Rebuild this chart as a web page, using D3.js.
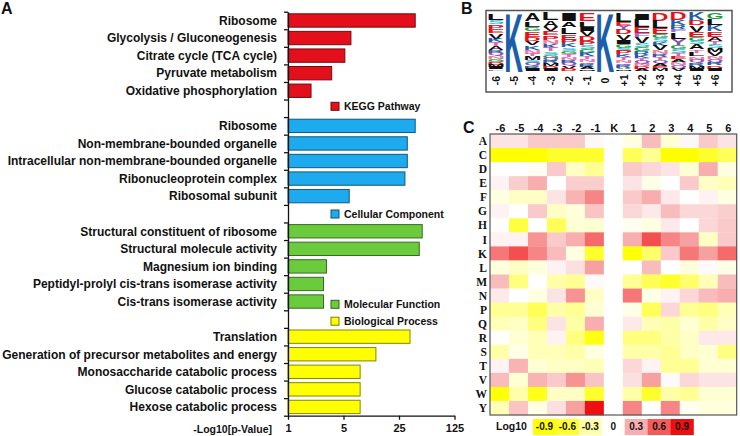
<!DOCTYPE html>
<html><head><meta charset="utf-8">
<script src="https://cdn.jsdelivr.net/npm/d3@7"></script>
<style>
body{margin:0;background:#fff}
svg{display:block}
text{font-family:"Liberation Sans",Arial,sans-serif;font-weight:bold;fill:#111}
</style>
</head><body>
<svg id="c" width="740" height="436"></svg>
<script>
// ---------- Panel A data ----------
const groupNames = ["KEGG Pathway","Cellular Component","Molecular Function","Biological Process"];
const groupColors = ["#e3101b","#1eaaee","#6acc3c","#ffff00"];
const keggTerms = ["Ribosome","Glycolysis / Gluconeogenesis","Citrate cycle (TCA cycle)","Pyruvate metabolism","Oxidative phosphorylation"];
const keggValues = [40, 6.2, 5.2, 3.55, 1.95];
const ccTerms = ["Ribosome","Non-membrane-bounded organelle","Intracellular non-membrane-bounded organelle","Ribonucleoprotein complex","Ribosomal subunit"];
const ccValues = [40, 31.8, 31.8, 29.7, 5.9];
const mfTerms = ["Structural constituent of ribosome","Structural molecule activity","Magnesium ion binding","Peptidyl-prolyl cis-trans isomerase activity","Cis-trans isomerase activity"];
const mfValues = [49, 45, 3.05, 2.8, 2.8];
const bpTerms = ["Translation","Generation of precursor metabolites and energy","Monosaccharide catabolic process","Glucose catabolic process","Hexose catabolic process"];
const bpValues = [34.4, 12.8, 8.1, 8.1, 8.1];
const xTicks = [1, 5, 25, 125];

// ---------- Panel B data (sequence logo, top -> bottom) ----------
const logoPositions = ["-6","-5","-4","-3","-2","-1","0","+1","+2","+3","+4","+5","+6"];
const logoStacks = [
  [["L",.12],["S",.07],["P",.08],["E",.07],["V",.10],["K",.06],["T",.06],["A",.06],["R",.05],["Q",.05],["N",.05],["G",.05],["D",.05],["M",.04],["I",.04],["F",.03]],
  [["K",1]],
  [["A",.14],["L",.10],["G",.07],["E",.10],["D",.08],["V",.07],["K",.08],["N",.06],["T",.05],["M",.06],["S",.05],["Q",.05],["R",.05],["I",.04]],
  [["L",.13],["A",.12],["V",.06],["E",.08],["P",.08],["N",.07],["K",.06],["T",.06],["S",.06],["G",.05],["Q",.05],["R",.05],["M",.05],["D",.04],["I",.04]],
  [["I",.14],["A",.10],["L",.12],["E",.10],["P",.06],["K",.07],["S",.06],["G",.06],["T",.05],["N",.05],["R",.05],["Q",.05],["V",.05],["D",.04]],
  [["E",.14],["L",.10],["I",.06],["V",.10],["D",.08],["P",.06],["S",.07],["G",.06],["K",.06],["T",.05],["N",.05],["Q",.04],["R",.04],["A",.04],["M",.03]],
  [["K",1]],
  [["L",.15],["E",.07],["Y",.06],["D",.08],["V",.10],["I",.06],["G",.07],["S",.05],["P",.06],["K",.05],["T",.05],["N",.04],["Q",.04],["R",.04],["A",.03],["M",.03]],
  [["I",.12],["L",.12],["E",.10],["F",.06],["V",.10],["S",.06],["G",.07],["R",.06],["K",.05],["T",.05],["Q",.05],["N",.04],["D",.04],["A",.04]],
  [["D",.13],["L",.12],["E",.10],["G",.07],["S",.06],["K",.06],["V",.08],["N",.06],["R",.05],["T",.05],["Q",.05],["A",.05],["P",.04],["M",.04]],
  [["D",.12],["K",.08],["R",.07],["F",.05],["L",.10],["Y",.10],["G",.07],["S",.06],["T",.05],["E",.05],["A",.05],["N",.05],["Q",.05],["V",.04]],
  [["K",.12],["D",.08],["V",.10],["E",.08],["G",.06],["S",.06],["A",.08],["T",.05],["L",.06],["N",.05],["Q",.05],["R",.05],["M",.04],["I",.04]],
  [["G",.10],["L",.10],["K",.10],["E",.08],["A",.07],["T",.06],["S",.06],["M",.06],["V",.06],["N",.05],["Q",.05],["R",.05],["D",.05],["I",.04]]
];
const aaColors = {K:"#1c5eab",R:"#1c5eab",H:"#1c5eab",D:"#e3121b",E:"#e3121b",P:"#e3121b",
  G:"#18a040",S:"#35bcd8",T:"#e065b8",N:"#ef7aa5",Q:"#8d4db0",Y:"#8d4db0",F:"#a06ad0",C:"#2aa05a",
  L:"#111",A:"#111",V:"#111",I:"#111",M:"#111",W:"#111"};

// ---------- Panel C data (heatmap) ----------
const heatCols = ["-6","-5","-4","-3","-2","-1","K","1","2","3","4","5","6"];
const heatRows = ["A","C","D","E","F","G","H","I","K","L","M","N","P","Q","R","S","T","V","W","Y"];
const heatValues = [
  [0.10,0.10,0.20,0.20,0.20,0.03, -0.10,0.25,-0.15,0.03,0.20,0.10],
  [-0.90,-0.90,-0.90,-0.60,-0.60,-0.60, -0.50,-0.35,-0.90,-0.90,-0.60,-0.50],
  [0.00,0.00,-0.05,0.20,-0.20,-0.35, 0.20,0.15,0.10,-0.15,0.30,-0.10],
  [0.05,0.18,0.30,0.00,0.18,0.18, 0.10,-0.08,0.00,0.20,-0.20,-0.25],
  [-0.10,-0.20,-0.20,0.10,0.28,0.45, 0.20,0.30,0.08,0.00,0.05,-0.10],
  [0.05,0.00,0.20,-0.20,-0.12,0.22, 0.15,0.08,0.25,0.15,0.15,0.18],
  [0.00,-0.55,0.00,-0.50,-0.15,-0.15, -0.05,-0.10,0.08,0.00,0.15,0.20],
  [0.05,0.05,0.40,0.20,0.30,0.55, 0.30,0.65,0.45,0.35,-0.20,0.20],
  [0.50,0.65,0.45,0.25,-0.10,-0.60, -0.85,-0.45,0.20,0.50,0.35,0.55],
  [-0.12,-0.20,-0.12,0.05,0.12,0.35, 0.00,0.25,0.00,-0.12,0.02,-0.08],
  [0.25,-0.40,0.00,-0.30,-0.35,0.02, -0.35,-0.50,-0.60,-0.45,-0.25,0.25],
  [0.08,0.00,-0.10,0.10,0.40,-0.20, 0.50,-0.08,0.05,0.15,0.25,0.30],
  [-0.35,-0.35,-0.50,-0.30,-0.35,-0.15, -0.08,-0.50,0.15,-0.35,-0.40,-0.25],
  [-0.25,-0.20,-0.40,0.10,-0.30,0.30, 0.08,-0.25,-0.30,-0.15,-0.30,-0.20],
  [0.00,-0.15,-0.25,0.05,-0.40,-0.80, -0.40,-0.40,-0.30,-0.20,0.08,0.08],
  [-0.30,-0.08,-0.25,-0.25,-0.30,-0.10, -0.30,-0.30,-0.35,-0.20,-0.15,-0.40],
  [0.05,0.28,-0.15,-0.20,-0.20,-0.25, 0.15,0.05,-0.35,-0.35,-0.15,-0.15],
  [0.25,-0.15,0.28,0.20,0.40,0.22, 0.12,0.35,0.02,0.15,0.10,0.10],
  [-0.85,-0.30,-0.75,-0.20,-0.20,-0.60, -0.30,-0.60,-0.30,-0.35,-0.15,-0.15],
  [-0.25,0.22,-0.10,0.12,0.35,0.90, 0.45,0.00,0.45,-0.05,-0.12,-0.12]
];
const legendValues = [-0.9,-0.6,-0.3,0,0.3,0.6,0.9];
const legendLabels = ["-0.9","-0.6","-0.3","0","0.3","0.6","0.9"];
const legendColors = ["#ffff00","#ffff2e","#ffffa8","#ffffff","#f8aeae","#f45c5c","#ee1010"];

// ====================== drawing ======================
const svg = d3.select("#c");

// ---- Panel A ----
const A = svg.append("g");
A.append("text").attr("x",1).attr("y",14).style("font-size","16px").text("A");
const groups = [
  {terms:keggTerms, values:keggValues},
  {terms:ccTerms, values:ccValues},
  {terms:mfTerms, values:mfValues},
  {terms:bpTerms, values:bpValues}
];
const rows = [];
groups.forEach((g,gi)=>{
  g.terms.forEach((t,i)=>rows.push({slot:gi*6+i, term:t, value:g.values[i], group:gi}));
});
const nSlots = 23;
const yTop = 11.7, yBot = 415.7;
const ySlot = d3.scaleLinear().domain([0,nSlots]).range([yTop,yBot]);
const x = d3.scaleLog().base(5).domain([1,125]).range([288,454.5]);
const slotH = ySlot(1)-ySlot(0);
const barH = slotH*0.76;

A.selectAll("rect.bar").data(rows).join("rect").attr("class","bar")
  .attr("x",x(1)).attr("y",d=>ySlot(d.slot)+ (slotH-barH)/2)
  .attr("width",d=>x(d.value)-x(1)).attr("height",barH)
  .attr("fill",d=>groupColors[d.group])
  .attr("stroke",d=>d3.color(groupColors[d.group]).darker(1.8))
  .attr("stroke-width",1);

A.selectAll("text.term").data(rows).join("text").attr("class","term")
  .attr("x",277).attr("y",d=>ySlot(d.slot+0.5)).attr("dy","0.36em")
  .attr("text-anchor","end").style("font-size","12px").text(d=>d.term);

const yAxis = d3.axisLeft(ySlot).tickValues(d3.range(0,nSlots+1)).tickFormat("").tickSize(4).tickSizeOuter(0);
const gy = A.append("g").attr("transform",`translate(${x(1)},0)`).call(yAxis);
gy.selectAll("path,line").attr("stroke","#111").attr("stroke-width",1.3);

const xAxis = d3.axisBottom(x).tickValues(xTicks).tickFormat(d3.format("d")).tickSize(4).tickSizeOuter(0);
const gx = A.append("g").attr("transform",`translate(0,${yBot})`).call(xAxis);
gx.selectAll("path,line").attr("stroke","#111").attr("stroke-width",1.3);
gx.selectAll("text").attr("y",9).style("font-size","11px").style("font-family","'Liberation Sans',Arial,sans-serif").style("font-weight","bold").attr("fill","#111");
A.append("text").attr("x",272).attr("y",yBot+14).attr("dy","0.36em").attr("text-anchor","end").style("font-size","10.5px").text("-Log10[p-Value]");

const legendY = [106.3, 214, 304.3, 321.2];
groupNames.forEach((n,i)=>{
  A.append("rect").attr("x",331).attr("y",legendY[i]-4).attr("width",8).attr("height",8)
    .attr("fill",groupColors[i]).attr("stroke",d3.color(groupColors[i]).darker(2)).attr("stroke-width",1);
  A.append("text").attr("x",344).attr("y",legendY[i]).attr("dy","0.36em").style("font-size","10.5px").text(n);
});

// ---- Panel B ----
const B = svg.append("g");
B.append("text").attr("x",461).attr("y",14).style("font-size","16px").text("B");
B.append("rect").attr("x",486).attr("y",10.5).attr("width",246).attr("height",81.5)
  .attr("fill","none").attr("stroke","#555").attr("stroke-width",1.5);
const xl = d3.scalePoint().domain(logoPositions).range([496,715]);
const logoTop = 13, logoBot = 71.5;
const yl = d3.scaleLinear().domain([0,1]).range([logoBot,logoTop]);
const cnv = document.createElement("canvas").getContext("2d");
cnv.font = "bold 100px 'Liberation Sans', Arial, sans-serif";
const metrics = {};
function met(ch){
  if(!metrics[ch]){ const m = cnv.measureText(ch);
    metrics[ch] = {L:m.actualBoundingBoxLeft, R:m.actualBoundingBoxRight, A:m.actualBoundingBoxAscent, D:m.actualBoundingBoxDescent}; }
  return metrics[ch];
}
logoStacks.forEach((stack,pi)=>{
  const total = d3.sum(stack,d=>d[1]);
  const isBig = stack.length===1;
  const w = isBig ? 17 : 15;
  let cum = 1;
  stack.forEach(([ch,v])=>{
    const f = v/total;
    const y0 = yl(cum), y1 = yl(cum-f);
    cum -= f;
    const h = (y1-y0) - (isBig?0:0.4);
    if(h<=0.3) return;
    const m = met(ch);
    const sx = w/(m.L+m.R), sy = h/(m.A+m.D);
    const x0 = xl(logoPositions[pi]) - w/2;
    B.append("text").attr("x",0).attr("y",0)
      .attr("transform",`translate(${x0+m.L*sx},${y0+m.A*sy}) scale(${sx},${sy})`)
      .style("font-size","100px").style("fill",aaColors[ch]||"#111").text(ch);
  });
});
B.selectAll("text.lp").data(logoPositions).join("text").attr("class","lp")
  .attr("transform",d=>`translate(${xl(d)},80.5) rotate(-90)`).attr("text-anchor","middle").attr("dy","0.36em")
  .style("font-size","10.5px").text(d=>d);

// ---- Panel C ----
const C = svg.append("g");
C.append("text").attr("x",463).attr("y",133).style("font-size","16px").text("C");
const hx = d3.scaleBand().domain(heatCols).range([490,736.7]);
const hy = d3.scaleBand().domain(heatRows).range([134,415]);
const color = d3.scaleLinear().domain(legendValues).range(legendColors).clamp(true);
const cells = [];
heatRows.forEach((r,ri)=>{
  const vals = heatValues[ri].slice(0,6).concat([null], heatValues[ri].slice(6));
  vals.forEach((v,ci)=>cells.push({r, c:heatCols[ci], v}));
});
C.selectAll("rect.cell").data(cells).join("rect").attr("class","cell")
  .attr("x",d=>hx(d.c)).attr("y",d=>hy(d.r)).attr("width",hx.bandwidth()+0.3).attr("height",hy.bandwidth()+0.3)
  .attr("fill",d=>d.v===null?"#fff":color(d.v));
C.append("rect").attr("x",490).attr("y",134).attr("width",246.7).attr("height",281)
  .attr("fill","none").attr("stroke","#555").attr("stroke-width",1.2);
C.selectAll("text.ch").data(heatCols).join("text").attr("class","ch")
  .attr("x",d=>hx(d)+hx.bandwidth()/2+1).attr("y",128).attr("dy","0.36em").attr("text-anchor","middle")
  .style("font-size","11px").text(d=>d);
C.selectAll("text.rh").data(heatRows).join("text").attr("class","rh")
  .attr("x",487).attr("y",d=>hy(d)+hy.bandwidth()/2).attr("dy","0.36em").attr("text-anchor","end")
  .style("font-family","'Liberation Serif','Times New Roman',serif").style("font-size","11.5px").text(d=>d);

// legend
const lx = d3.scaleBand().domain(legendValues).range([533,693.5]);
C.append("text").attr("x",496).attr("y",426.5).attr("dy","0.36em").style("font-size","10.5px").text("Log10");
C.selectAll("rect.lg").data(legendValues).join("rect").attr("class","lg")
  .attr("x",d=>lx(d)).attr("y",419).attr("width",lx.bandwidth()+0.3).attr("height",16)
  .attr("fill",d=>color(d));
C.selectAll("text.lgt").data(legendValues).join("text").attr("class","lgt")
  .attr("x",d=>lx(d)+lx.bandwidth()/2).attr("y",426.5).attr("dy","0.36em").attr("text-anchor","middle")
  .style("font-size","10px").text((d,i)=>legendLabels[i]);
</script>
</body></html>
